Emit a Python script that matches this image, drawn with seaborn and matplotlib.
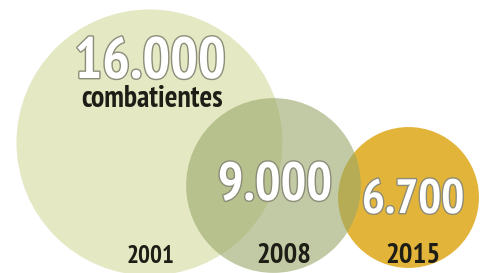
import matplotlib
matplotlib.use("Agg")
import matplotlib.pyplot as plt
import matplotlib.patheffects as pe
import seaborn as sns
import pandas as pd
from matplotlib import font_manager
from matplotlib.font_manager import FontProperties

# ---- data ----
years = ["2001", "2008", "2015"]
fighters = [16000, 9000, 6700]
unit_label = "combatientes"

# ---- layout / style (pixels) ----
W, H, DPI = 480, 273, 100
x_pos = [149, 273, 408]
y_pos = [142, 185, 197]
r_max = 133
exponent = 0.73
colors = {"2001": "#e4e8c3", "2008": "#99a869", "2015": "#e3b43a"}
alphas = {"2001": 1.0, "2008": 0.6, "2015": 1.0}
zorders = {"2001": 1, "2008": 3, "2015": 2}

sns.set_theme(style="white")
plt.rcParams["font.family"] = ["DejaVu Sans"]


def pick_font():
    best = None
    for f in font_manager.fontManager.ttflist:
        narrow = (f.stretch in ("condensed", "semi-condensed", "extra-condensed",
                                "ultra-condensed")
                  or "Narrow" in f.name or "Condensed" in f.name
                  or "Condensed" in f.fname or "Narrow" in f.fname)
        bold = f.weight in (700, 800, 900, "bold", "heavy", "black") or "Bold" in f.fname
        italic = f.style != "normal" or "Italic" in f.fname or "Oblique" in f.fname
        if narrow and bold and not italic:
            score = 0 if "Narrow" in f.fname else 1
            if best is None or score < best[0]:
                best = (score, f.fname)
    if best:
        return FontProperties(fname=best[1])
    return FontProperties(family="DejaVu Sans", weight="bold")


FP = pick_font()

df = pd.DataFrame({"year": years, "value": fighters, "x": x_pos, "y": y_pos})
px_to_pt = 72.0 / DPI
df["r"] = r_max * (df["value"] / df["value"].max()) ** exponent
df["s"] = (2 * df["r"] * px_to_pt) ** 2

fig = plt.figure(figsize=(W / DPI, H / DPI), dpi=DPI)
ax = fig.add_axes([0, 0, 1, 1])
ax.set_xlim(0, W)
ax.set_ylim(H, 0)
ax.set_axis_off()

for _, row in df.iterrows():
    sub = df[df["year"] == row["year"]]
    sns.scatterplot(data=sub, x="x", y="y", hue="year", size="value",
                    sizes={row["value"]: row["s"]}, palette=colors,
                    alpha=alphas[row["year"]], linewidth=0, legend=False,
                    ax=ax, zorder=zorders[row["year"]])

num_fx = [pe.withStroke(linewidth=2.0, foreground="#8c8c78")]


def fmt(v):
    return f"{v:,}".replace(",", ".")


fig.canvas.draw()
renderer = fig.canvas.get_renderer()


def fit_text(x, y, s, target_w, **kw):
    fp = FP.copy()
    fp.set_size(20)
    t = ax.text(x, y, s, ha="center", va="baseline", fontproperties=fp, **kw)
    bb = t.get_window_extent(renderer)
    size = 20 * target_w / bb.width
    fp2 = FP.copy()
    fp2.set_size(size)
    t.set_fontproperties(fp2)
    return t


num_w = [152, 115, 103]
num_xy = [(150, 78), (275, 200), (413, 213)]
year_xy = [(151, 263), (284, 263), (413, 263)]
year_w = [48, 55, 55]
for i, row in df.iterrows():
    fit_text(num_xy[i][0], num_xy[i][1], fmt(row["value"]), num_w[i],
             color="white", path_effects=num_fx, zorder=10)
    fit_text(year_xy[i][0], year_xy[i][1], row["year"], year_w[i],
             color="#1e1e16", zorder=10)

fit_text(152, 107, unit_label, 142, color="#1e1e16", zorder=10)

fig.savefig("out.png", dpi=DPI, facecolor="white")
